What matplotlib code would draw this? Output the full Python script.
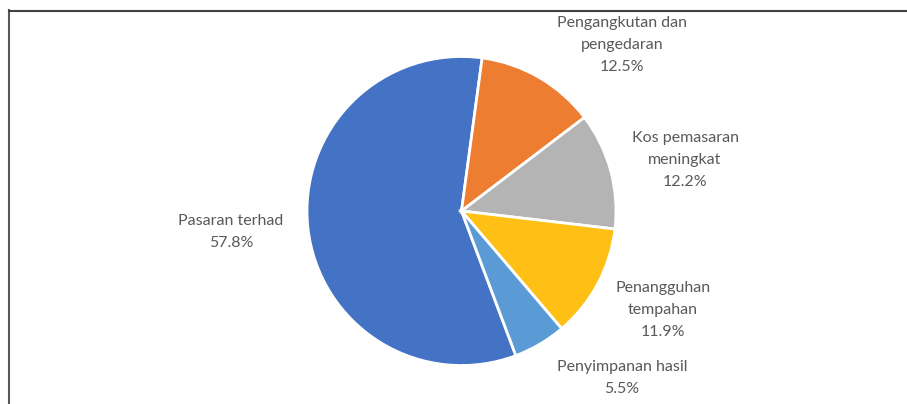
import matplotlib
matplotlib.use('Agg')
import matplotlib.pyplot as plt
from matplotlib.lines import Line2D

# data, in clockwise order from the blue slice
labels = ['Pasaran terhad', 'Pengangkutan dan\npengedaran', 'Kos pemasaran\nmeningkat',
          'Penangguhan\ntempahan', 'Penyimpanan hasil']
values = [57.8, 12.5, 12.2, 11.9, 5.5]
colors = ['#4472C4', '#ED7D31', '#B4B4B4', '#FEC014', '#5B9BD5']

# label centres in pixels (x from left, y from top)
label_pos = [(231, 232), (622, 45), (685, 160), (663, 310), (622, 378)]

W, H = 907, 404
fig = plt.figure(figsize=(W / 100, H / 100), dpi=100)

cx, cy, r = 461.5, 211, 154.5
ax = fig.add_axes([(cx - r) / W, (H - cy - r) / H, 2 * r / W, 2 * r / H])
ax.pie(values, colors=colors, startangle=-69.4, counterclock=False, radius=1,
       wedgeprops=dict(edgecolor='white', linewidth=2))
ax.set_xlim(-1, 1)
ax.set_ylim(-1, 1)
ax.set_aspect('equal')
ax.axis('off')

for lab, val, (x, y) in zip(labels, values, label_pos):
    fig.text(x / W, 1 - y / H, f"{lab}\n{val:.1f}%", ha='center', va='center',
             fontsize=11.5, color='#595959', family='Lato', linespacing=1.72)

# frame edges
fig.add_artist(Line2D([8.5 / W, 8.5 / W], [0, 1 - 10 / H], transform=fig.transFigure,
                      color='#595959', lw=1.5))
fig.add_artist(Line2D([8.5 / W, 1], [1 - 10.5 / H, 1 - 10.5 / H], transform=fig.transFigure,
                      color='#404040', lw=1.5))

fig.savefig('out.png', dpi=100)
